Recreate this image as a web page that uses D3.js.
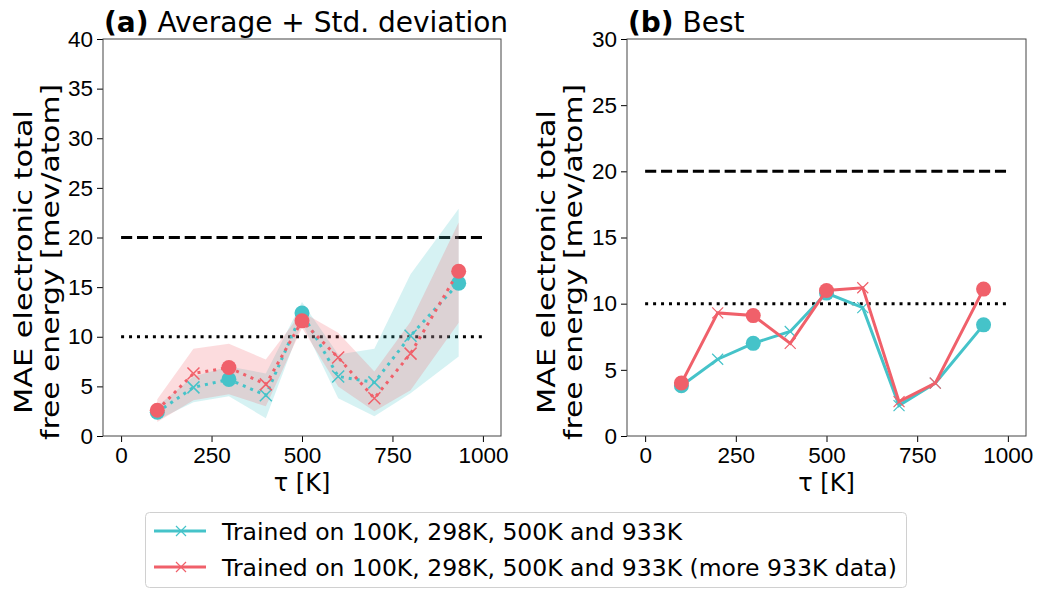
<!DOCTYPE html>
<html>
<head>
<meta charset="utf-8">
<script src="https://cdn.jsdelivr.net/npm/d3@7"></script>
<style>
  body { margin: 0; background: #fff; }
  svg { display: block; font-family: 'DejaVu Sans', sans-serif; }
</style>
</head>
<body>
<svg id="chart" width="1041" height="589"></svg>
<script>
// temperatures (K)
const temps = [100, 200, 298, 400, 500, 600, 700, 800, 933];
const trainTemps = [100, 298, 500, 933];

// (a) average + std band
const avgCyan = [2.4, 4.9, 5.7, 4.1, 12.4, 6.0, 5.4, 10.1, 15.4];
const avgRed = [2.6, 6.3, 6.9, 5.2, 11.6, 7.9, 3.8, 8.3, 16.6];
const cyanLow = [1.6, 3.4, 4.0, 1.8, 11.4, 3.8, 2.0, 4.3, 8.0];
const cyanHigh = [3.0, 6.0, 7.0, 6.3, 13.5, 8.2, 8.8, 16.3, 22.9];
const redLow = [1.4, 3.6, 4.2, 3.0, 10.9, 5.0, 2.5, 4.6, 11.4];
const redHigh = [3.7, 8.8, 9.3, 7.7, 12.5, 10.4, 6.5, 11.5, 21.5];

// (b) best
const bestCyan = [3.8, 5.8, 7.0, 7.9, 10.8, 9.7, 2.3, 4.0, 8.4];
const bestRed = [4.0, 9.3, 9.1, 7.0, 11.0, 11.2, 2.6, 4.0, 11.1];

const refLines = [20, 10];
const xTicks = [0, 250, 500, 750, 1000];
const yTicksA = [0, 5, 10, 15, 20, 25, 30, 35, 40];
const yTicksB = [0, 5, 10, 15, 20, 25, 30];
const legendLabels = [
  'Trained on 100K, 298K, 500K and 933K',
  'Trained on 100K, 298K, 500K and 933K (more 933K data)'
];

const cyan = '#45c3c9';
const red = '#f0606a';

const svg = d3.select('#chart');

function panel(opts) {
  const x = d3.scaleLinear().domain([-50, 1050]).range([opts.left, opts.right]);
  const y = d3.scaleLinear().domain([0, opts.ymax]).range([436, 39]);
  const g = svg.append('g');

  // axes
  g.append('g')
    .attr('transform', 'translate(0,436)')
    .call(d3.axisBottom(x).tickValues(xTicks).tickSize(6).tickPadding(5).tickFormat(d3.format('d')))
    .call(a => a.select('.domain').remove())
    .call(a => a.selectAll('text').style('font-size', '22.5px').attr('fill', '#000'));
  g.append('g')
    .attr('transform', `translate(${opts.left},0)`)
    .call(d3.axisLeft(y).tickValues(opts.yTicks).tickSize(6).tickPadding(4))
    .call(a => a.select('.domain').remove())
    .call(a => a.selectAll('text').style('font-size', '22.5px').attr('fill', '#000'));

  // reference lines
  g.append('line')
    .attr('x1', x(0)).attr('x2', x(1000))
    .attr('y1', y(refLines[0])).attr('y2', y(refLines[0]))
    .attr('stroke', '#000').attr('stroke-width', 3).attr('stroke-dasharray', '11.1,4.8');
  g.append('line')
    .attr('x1', x(0)).attr('x2', x(1000))
    .attr('y1', y(refLines[1])).attr('y2', y(refLines[1]))
    .attr('stroke', '#000').attr('stroke-width', 3).attr('stroke-dasharray', '3,4.95');

  opts.draw(g, x, y);

  // frame
  g.append('rect')
    .attr('x', opts.left).attr('y', 39)
    .attr('width', opts.right - opts.left).attr('height', 397)
    .attr('fill', 'none').attr('stroke', '#444').attr('stroke-width', 1);

  // title
  const t = g.append('text')
    .attr('x', opts.left + 1).attr('y', 32)
    .style('font-size', '28px');
  t.append('tspan').attr('font-weight', 'bold').text(opts.tag);
  t.append('tspan').text(' ' + opts.title);

  // axis labels
  g.append('text')
    .attr('x', (opts.left + opts.right) / 2).attr('y', 491)
    .attr('text-anchor', 'middle').style('font-size', '24px')
    .text('τ [K]');
  const yl = g.append('g')
    .attr('transform', `translate(${opts.labelX},262) rotate(-90)`)
    .style('font-size', '24px');
  yl.append('text').attr('x', -152).attr('y', 0)
    .attr('textLength', 304).attr('lengthAdjust', 'spacingAndGlyphs')
    .text('MAE electronic total');
  yl.append('text').attr('x', -178).attr('y', 27)
    .attr('textLength', 356).attr('lengthAdjust', 'spacingAndGlyphs')
    .text('free energy [mev/atom]');
}

function crosses(g, x, y, vals, col, size, width) {
  const pts = temps.map((t, i) => [t, vals[i]]).filter(d => !trainTemps.includes(d[0]));
  g.selectAll(null).data(pts).enter().append('path')
    .attr('d', d => {
      const cx = x(d[0]), cy = y(d[1]);
      return `M${cx - size},${cy - size}L${cx + size},${cy + size}M${cx - size},${cy + size}L${cx + size},${cy - size}`;
    })
    .attr('stroke', col).attr('stroke-width', width).attr('fill', 'none');
}

function dots(g, x, y, vals, col) {
  const pts = temps.map((t, i) => [t, vals[i]]).filter(d => trainTemps.includes(d[0]));
  g.selectAll(null).data(pts).enter().append('circle')
    .attr('cx', d => x(d[0])).attr('cy', d => y(d[1]))
    .attr('r', 7.5).attr('fill', col);
}

panel({
  left: 103, right: 501, ymax: 40, yTicks: yTicksA,
  tag: '(a)', title: 'Average + Std. deviation', labelX: 32,
  draw: (g, x, y) => {
    const area = (lo, hi) => d3.area()
      .x((d, i) => x(temps[i]))
      .y0((d, i) => y(lo[i]))
      .y1((d, i) => y(hi[i]))(temps);
    g.append('path').attr('d', area(cyanLow, cyanHigh)).attr('fill', cyan).attr('fill-opacity', 0.22);
    g.append('path').attr('d', area(redLow, redHigh)).attr('fill', red).attr('fill-opacity', 0.22);
    const line = vals => d3.line().x((d, i) => x(temps[i])).y((d, i) => y(vals[i]))(temps);
    [[avgCyan, cyan], [avgRed, red]].forEach(([vals, col]) => {
      g.append('path').attr('d', line(vals))
        .attr('fill', 'none').attr('stroke', col).attr('stroke-width', 3)
        .attr('stroke-dasharray', '3,4.95');
      crosses(g, x, y, vals, col, 6, 1.5);
      dots(g, x, y, vals, col);
    });
  }
});

panel({
  left: 627, right: 1026, ymax: 30, yTicks: yTicksB,
  tag: '(b)', title: 'Best', labelX: 555,
  draw: (g, x, y) => {
    const line = vals => d3.line().x((d, i) => x(temps[i])).y((d, i) => y(vals[i]))(temps);
    [[bestCyan, cyan], [bestRed, red]].forEach(([vals, col]) => {
      g.append('path').attr('d', line(vals))
        .attr('fill', 'none').attr('stroke', col).attr('stroke-width', 3);
      crosses(g, x, y, vals, col, 5.5, 1.2);
      dots(g, x, y, vals, col);
    });
  }
});

// legend
const lg = svg.append('g');
lg.append('rect')
  .attr('x', 145.5).attr('y', 512.5).attr('width', 761).attr('height', 75).attr('rx', 4)
  .attr('fill', '#fff').attr('stroke', '#d0d0d0').attr('stroke-width', 1);
[cyan, red].forEach((col, i) => {
  const cy = 531 + i * 36;
  lg.append('line').attr('x1', 154).attr('x2', 206).attr('y1', cy).attr('y2', cy)
    .attr('stroke', col).attr('stroke-width', 3);
  lg.append('path')
    .attr('d', `M176,${cy - 5}L186,${cy + 5}M176,${cy + 5}L186,${cy - 5}`)
    .attr('stroke', col).attr('stroke-width', 1.2);
  lg.append('text').attr('x', 222).attr('y', cy + 8.5)
    .style('font-size', '23.5px').text(legendLabels[i]);
});
</script>
</body>
</html>
